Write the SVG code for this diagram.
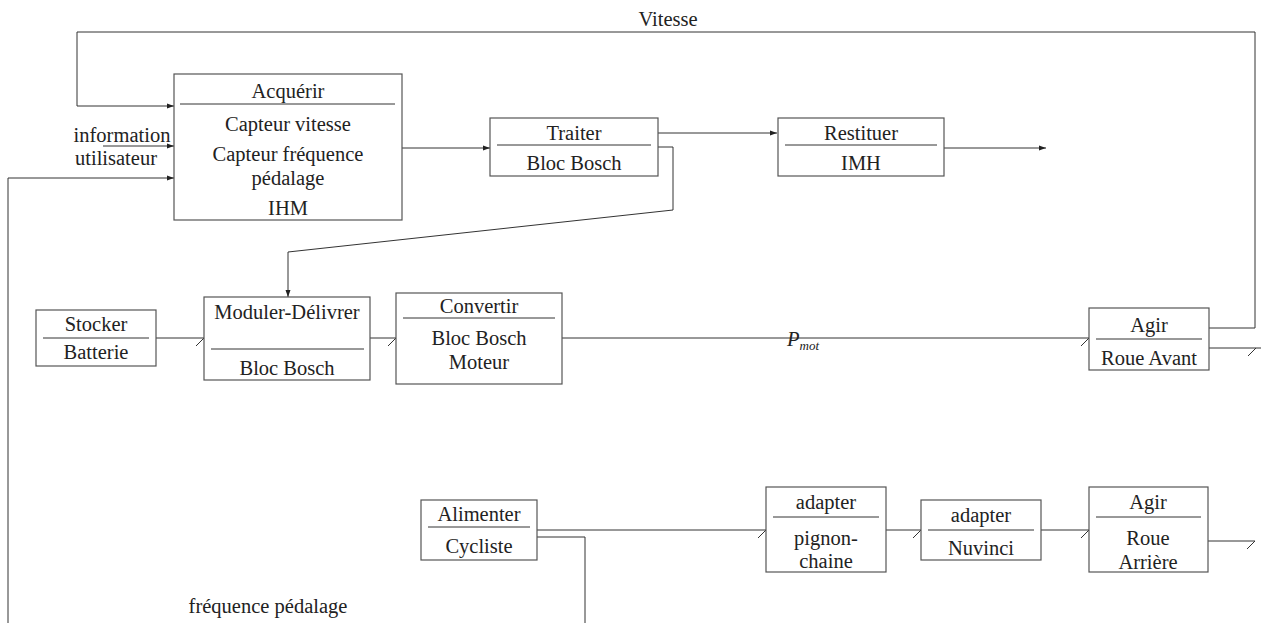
<svg xmlns="http://www.w3.org/2000/svg" width="1261" height="623" viewBox="0 0 1261 623">
<defs>
<marker id="arr" markerWidth="8" markerHeight="6" refX="7" refY="3" orient="auto" markerUnits="userSpaceOnUse">
<path d="M0,0.5 L7,3 L0,5.5 Z" fill="#222"/>
</marker>
</defs>
<style>
.box{fill:#fff;stroke:#555;stroke-width:1.2}
.sep{stroke:#333;stroke-width:1}
.ln{fill:none;stroke:#333;stroke-width:1}
text{font-family:"Liberation Serif","DejaVu Serif",serif;font-size:20.5px;fill:#222;text-anchor:middle}
</style>
<rect width="1261" height="623" fill="#fff"/>
<g id="connectors">
<polyline class="ln" points="1209,328 1255,328 1255,32 77,32 77,106 174,106" marker-end="url(#arr)"/>
<line class="ln" x1="103" y1="146" x2="174" y2="146" marker-end="url(#arr)"/>
<polyline class="ln" points="8,623 8,178 174,178" marker-end="url(#arr)"/>
<line class="ln" x1="402" y1="148" x2="490" y2="148" marker-end="url(#arr)"/>
<line class="ln" x1="658" y1="133" x2="777" y2="133" marker-end="url(#arr)"/>
<line class="ln" x1="944" y1="148" x2="1046" y2="148" marker-end="url(#arr)"/>
<polyline class="ln" points="658,147 673,147 673,210 288,252 288,297" marker-end="url(#arr)"/>
<path class="ln" d="M156,338 H204 M196,346 L204,338"/>
<path class="ln" d="M370,338 H396 M388,346 L396,338"/>
<path class="ln" d="M562,338 H1089 M1081,346 L1089,338"/>
<path class="ln" d="M1209,348 H1262 M1248,356 L1256,348"/>
<path class="ln" d="M537,530 H766 M758,538 L766,530"/>
<polyline class="ln" points="537,537 585,537 585,623"/>
<path class="ln" d="M886,530 H921 M913,538 L921,530"/>
<path class="ln" d="M1041,530 H1089 M1081,538 L1089,530"/>
<path class="ln" d="M1208,541 H1255 M1247,549 L1255,541"/>
<text x="668" y="26">Vitesse</text>
<text x="122" y="142">information</text>
<text x="116" y="165">utilisateur</text>
<text x="803" y="346" font-style="italic" font-size="21">P<tspan font-size="13" dy="4">mot</tspan></text>
<text x="268" y="613">fréquence pédalage</text>
</g>
<g id="acquerir">
<rect class="box" x="174" y="74" width="228" height="146"/>
<line class="sep" x1="180" y1="104" x2="395" y2="104"/>
<text x="288" y="98">Acquérir</text>
<text x="288" y="131">Capteur vitesse</text>
<text x="288" y="161">Capteur fréquence</text>
<text x="288" y="185">pédalage</text>
<text x="288" y="215">IHM</text>
</g>
<g id="traiter">
<rect class="box" x="490" y="118" width="168" height="58"/>
<line class="sep" x1="497" y1="145" x2="651" y2="145"/>
<text x="574" y="140">Traiter</text>
<text x="574" y="170">Bloc Bosch</text>
</g>
<g id="restituer">
<rect class="box" x="778" y="118" width="166" height="58"/>
<line class="sep" x1="785" y1="145" x2="937" y2="145"/>
<text x="861" y="140">Restituer</text>
<text x="861" y="170">IMH</text>
</g>
<g id="stocker">
<rect class="box" x="36" y="310" width="120" height="56"/>
<line class="sep" x1="43" y1="338" x2="149" y2="338"/>
<text x="96" y="331">Stocker</text>
<text x="96" y="359">Batterie</text>
</g>
<g id="moduler">
<rect class="box" x="204" y="297" width="166" height="83"/>
<line class="sep" x1="211" y1="349" x2="364" y2="349"/>
<text x="287" y="319">Moduler-Délivrer</text>
<text x="287" y="375">Bloc Bosch</text>
</g>
<g id="convertir">
<rect class="box" x="396" y="293" width="166" height="91"/>
<line class="sep" x1="403" y1="318" x2="555" y2="318"/>
<text x="479" y="313">Convertir</text>
<text x="479" y="345">Bloc Bosch</text>
<text x="479" y="369">Moteur</text>
</g>
<g id="agir-avant">
<rect class="box" x="1089" y="308" width="120" height="62"/>
<line class="sep" x1="1096" y1="339" x2="1202" y2="339"/>
<text x="1149" y="332">Agir</text>
<text x="1149" y="365">Roue Avant</text>
</g>
<g id="alimenter">
<rect class="box" x="421" y="500" width="116" height="60"/>
<line class="sep" x1="428" y1="527" x2="530" y2="527"/>
<text x="479" y="521">Alimenter</text>
<text x="479" y="553">Cycliste</text>
</g>
<g id="adapter-pignon">
<rect class="box" x="766" y="487" width="120" height="85"/>
<line class="sep" x1="773" y1="517" x2="879" y2="517"/>
<text x="826" y="509">adapter</text>
<text x="826" y="545">pignon-</text>
<text x="826" y="568">chaine</text>
</g>
<g id="adapter-nuvinci">
<rect class="box" x="921" y="500" width="120" height="60"/>
<line class="sep" x1="928" y1="530" x2="1034" y2="530"/>
<text x="981" y="522">adapter</text>
<text x="981" y="555">Nuvinci</text>
</g>
<g id="agir-arriere">
<rect class="box" x="1089" y="487" width="119" height="85"/>
<line class="sep" x1="1096" y1="517" x2="1201" y2="517"/>
<text x="1148" y="509">Agir</text>
<text x="1148" y="545">Roue</text>
<text x="1148" y="569">Arrière</text>
</g>
</svg>
